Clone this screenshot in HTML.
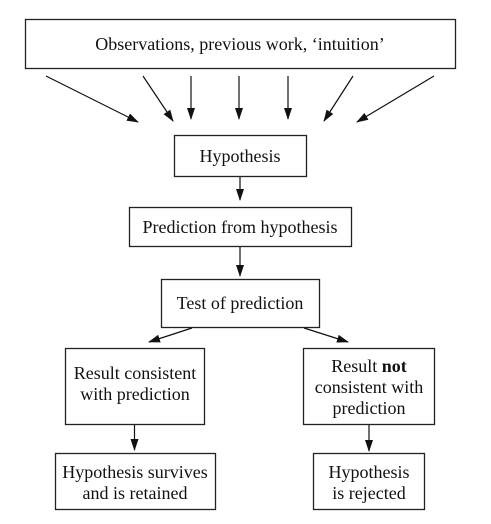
<!DOCTYPE html>
<html><head><meta charset="utf-8"><style>
html,body{margin:0;padding:0;background:#fff;font-family:"Liberation Serif","DejaVu Serif",serif;}
svg{display:block;}
svg text{font-family:"Liberation Serif","DejaVu Serif",serif;font-size:18px;fill:#111;}
rect{fill:#fff;stroke:#222;stroke-width:1.3;}
line{stroke:#111;stroke-width:1.2;}
</style></head><body>
<svg width="491" height="524" viewBox="0 0 491 524" xmlns="http://www.w3.org/2000/svg" font-family="Liberation Serif, DejaVu Serif, serif" font-size="18">
<defs><marker id="a" markerWidth="12" markerHeight="8" refX="11" refY="4" orient="auto" markerUnits="userSpaceOnUse"><path d="M0,0 L12,4 L0,8 Z" fill="#111"/></marker></defs>
<rect x="25.5" y="19.5" width="430" height="49"/>
<text x="240" y="50" text-anchor="middle">Observations, previous work, ‘intuition’</text>
<line x1="46" y1="76" x2="138" y2="122" marker-end="url(#a)"/>
<line x1="143" y1="76" x2="173" y2="121" marker-end="url(#a)"/>
<line x1="191" y1="76" x2="191" y2="119" marker-end="url(#a)"/>
<line x1="239" y1="76" x2="239" y2="119" marker-end="url(#a)"/>
<line x1="288" y1="76" x2="288" y2="119" marker-end="url(#a)"/>
<line x1="353" y1="76" x2="324" y2="121" marker-end="url(#a)"/>
<line x1="434" y1="76" x2="357" y2="122" marker-end="url(#a)"/>
<rect x="174.5" y="135.5" width="132" height="41"/>
<text x="240" y="162" text-anchor="middle">Hypothesis</text>
<line x1="240" y1="177" x2="240" y2="200" marker-end="url(#a)"/>
<rect x="129.5" y="207.5" width="222" height="39"/>
<text x="240" y="233" text-anchor="middle">Prediction from hypothesis</text>
<line x1="240" y1="247" x2="240" y2="276" marker-end="url(#a)"/>
<rect x="161.5" y="279.5" width="158" height="48"/>
<text x="240" y="309" text-anchor="middle">Test of prediction</text>
<line x1="192" y1="328" x2="149" y2="342" marker-end="url(#a)"/>
<line x1="304" y1="328" x2="348" y2="342" marker-end="url(#a)"/>
<rect x="65.5" y="348.5" width="139" height="76"/>
<text x="135" y="379" text-anchor="middle">Result consistent</text>
<text x="135" y="400" text-anchor="middle">with prediction</text>
<rect x="303.5" y="348.5" width="131" height="76"/>
<text x="369" y="372" text-anchor="middle">Result <tspan font-weight="bold">not</tspan></text>
<text x="369" y="393" text-anchor="middle">consistent with</text>
<text x="369" y="414" text-anchor="middle">prediction</text>
<line x1="134.5" y1="425" x2="134.5" y2="450" marker-end="url(#a)"/>
<line x1="369" y1="425" x2="369" y2="451" marker-end="url(#a)"/>
<rect x="55.5" y="453.5" width="160" height="56"/>
<text x="135" y="478" text-anchor="middle">Hypothesis survives</text>
<text x="135" y="499" text-anchor="middle">and is retained</text>
<rect x="313.5" y="453.5" width="111" height="56"/>
<text x="369" y="478" text-anchor="middle">Hypothesis</text>
<text x="369" y="499" text-anchor="middle">is rejected</text>
</svg>
</body></html>
